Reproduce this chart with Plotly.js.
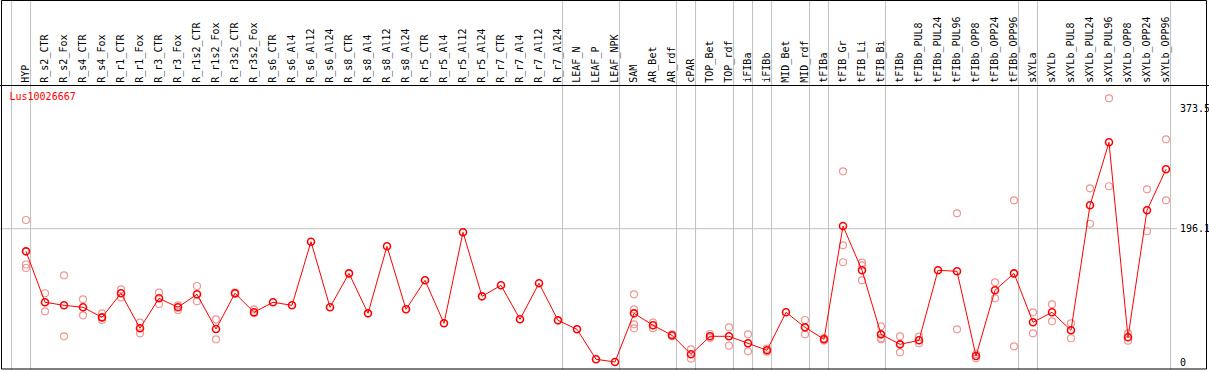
<!DOCTYPE html>
<html>
<head>
<meta charset="utf-8">
<script src="https://cdn.plot.ly/plotly-3.0.1.min.js"></script>
<style>html,body{margin:0;padding:0;background:#fff;}#chart{width:1209px;height:370px;}</style>
</head>
<body>
<div id="chart"></div>
<script>
const geneId = 'Lus10026667';

const categories = ['HYP','R_s2_CTR','R_s2_Fox','R_s4_CTR','R_s4_Fox','R_r1_CTR','R_r1_Fox','R_r3_CTR','R_r3_Fox',
  'R_r1s2_CTR','R_r1s2_Fox','R_r3s2_CTR','R_r3s2_Fox','R_s6_CTR','R_s6_Al4','R_s6_Al12','R_s6_Al24',
  'R_s8_CTR','R_s8_Al4','R_s8_Al12','R_s8_Al24','R_r5_CTR','R_r5_Al4','R_r5_Al12','R_r5_Al24',
  'R_r7_CTR','R_r7_Al4','R_r7_Al12','R_r7_Al24','LEAF_N','LEAF_P','LEAF_NPK','SAM','AR_Bet','AR_rdf',
  'cPAR','TOP_Bet','TOP_rdf','iFIBa','iFIBb','MID_Bet','MID_rdf','tFIBa','tFIB_Gr','tFIB_Li','tFIB_Bi',
  'tFIBb','tFIBb_PUL8','tFIBb_PUL24','tFIBb_PUL96','tFIBb_OPP8','tFIBb_OPP24','tFIBb_OPP96',
  'sXYLa','sXYLb','sXYLb_PUL8','sXYLb_PUL24','sXYLb_PUL96','sXYLb_OPP8','sXYLb_OPP24','sXYLb_OPP96'];

const meanValues = [162.8, 87.8, 83.4, 80.5, 65.7, 101.1, 49.6, 93.7, 80.5,
  99.6, 48.5, 101.1, 73.1, 87.8, 83.4, 177.0, 80.5,
  130.4, 71.6, 170.2, 77.5, 120.2, 56.9, 190.8, 96.6,
  112.8, 62.8, 115.8, 61.3, 48.1, 4.0, 0.0, 71.6, 54.0, 39.3,
  11.3, 37.8, 37.8, 27.5, 17.2, 73.1, 51.0, 33.4, 200.1, 134.9, 40.7,
  26.0, 31.9, 134.9, 133.4, 8.8, 105.5, 130.4,
  58.4, 73.1, 46.6, 230.5, 323.2, 36.3, 223.2, 283.5];

const replicates = [
  [208.9, 143.4, 138.3], [101.1, 74.6], [127.5, 37.8], [92.2, 68.7], [71.6, 61.8],
  [106.9, 95.0], [57.8, 42.2], [102.0, 85.3], [83.4, 76.5], [111.8, 89.3],
  [62.8, 33.4], [102.0, 100.0], [77.5, 71.6], [], [],
  [], [], [], [], [],
  [], [], [], [], [],
  [], [], [], [], [],
  [], [], [99.6, 77.5, 55.4, 49.6], [57.8, 49.6], [40.5, 38.0],
  [18.7, 4.9], [41.2, 35.3], [51.0, 24.0], [40.7, 15.7], [19.6, 15.2],
  [], [61.8, 40.7], [35.0, 31.5], [280.5, 171.7, 146.7], [146.1, 142.2, 120.2],
  [52.5, 35.0, 33.4], [37.8, 14.3], [37.3, 27.5], [], [218.7, 48.1],
  [11.8, 5.4], [117.2, 93.7], [237.8, 23.1], [73.1, 42.2], [84.9, 59.9],
  [56.9, 34.9], [255.5, 203.4], [387.9, 258.5], [42.2, 31.3], [254.0, 192.3],
  [327.6, 237.8]
];

const yTickValues = [0, 196.1, 373.5];
const yTickLabels = ['0', '196.1', '373.5'];
const gridValue = 196.1;

// index of the last category in each group (group separators)
const groupEnds = [-1, 0, 28, 31, 34, 35, 37, 38, 39, 41, 42, 45, 52, 53, 60];

// ---------- build ----------
const W = 1209, H = 370;
const mono = 'DejaVu Sans Mono, monospace';

const repX = [], repY = [];
replicates.forEach((arr, i) => arr.forEach(v => { repX.push(categories[i]); repY.push(v); }));

const traces = [
  {
    type: 'scatter', mode: 'markers', x: repX, y: repY, hoverinfo: 'y',
    marker: {symbol: 'circle-open', size: 7, color: 'rgb(240,150,150)', line: {width: 1.2, color: 'rgb(240,150,150)'}}
  },
  {
    type: 'scatter', mode: 'lines+markers', x: categories, y: meanValues,
    line: {color: '#ff0000', width: 1},
    marker: {symbol: 'circle-open', size: 7, color: '#ff0000', line: {width: 1.6, color: '#ff0000'}}
  }
];

const shapes = [];
groupEnds.forEach(k => {
  shapes.push({type: 'line', layer: 'below', xref: 'x', yref: 'paper', x0: k + 0.24, x1: k + 0.24, y0: 0, y1: 1,
    line: {color: '#c0c0c0', width: 1}});
});
shapes.push({type: 'line', layer: 'below', xref: 'paper', yref: 'y', x0: 0, x1: 1177 / W, y0: gridValue, y1: gridValue,
  line: {color: '#c0c0c0', width: 1}});
// frame
shapes.push({type: 'rect', layer: 'above', xref: 'paper', yref: 'paper', x0: 1.5 / W, x1: 1206.5 / W, y0: 1 - 369 / H, y1: 1 - 0.5 / H,
  line: {color: '#000000', width: 1}, fillcolor: 'rgba(0,0,0,0)'});

const annotations = yTickValues.map((v, i) => ({
  xref: 'paper', yref: 'y', x: 1178 / W, y: v, xanchor: 'left', yanchor: 'middle', showarrow: false,
  text: yTickLabels[i], font: {family: mono, size: 10, color: '#000'}
}));

const topY = 85.7;
const pxToVal = px => (362 - px) / 0.6798;

const layout = {
  width: W, height: H,
  margin: {l: 0, r: 0, t: 0, b: 0, pad: 0},
  paper_bgcolor: '#fff', plot_bgcolor: '#fff',
  showlegend: false,
  title: {text: geneId, font: {family: mono, size: 10, color: '#ff0000'},
    xref: 'container', yref: 'container', x: 9.5 / W, xanchor: 'left', y: 1 - 96.7 / H, yanchor: 'middle'},
  xaxis: {
    type: 'category', side: 'top', anchor: 'y',
    categoryorder: 'array', categoryarray: categories,
    range: [-26 / 19, (W - 26) / 19],
    tickmode: 'linear', tick0: 0, dtick: 1, tickangle: -90,
    tickfont: {family: mono, size: 10, color: '#000'},
    showgrid: false, zeroline: false, ticks: '',
    showline: true, linecolor: '#000', linewidth: 1
  },
  yaxis: {
    domain: [0, (H - topY) / H],
    range: [pxToVal(H), pxToVal(topY)],
    showticklabels: false, showgrid: false, zeroline: false, ticks: ''
  },
  shapes: shapes,
  annotations: annotations
};

Plotly.newPlot('chart', traces, layout, {displayModeBar: false, staticPlot: true});
</script>
</body>
</html>
